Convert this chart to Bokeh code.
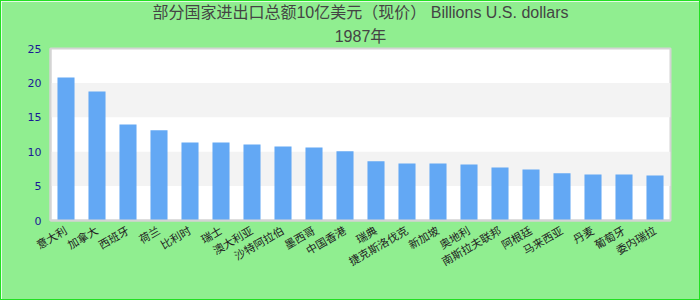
import math
from bokeh.plotting import figure
from bokeh.models import ColumnDataSource, Range1d, Title, FactorRange
from bokeh.embed import file_html
from bokeh.resources import INLINE

# ---- data ----
categories = ["意大利", "加拿大", "西班牙", "荷兰", "比利时", "瑞士", "澳大利亚", "沙特阿拉伯",
              "墨西哥", "中国香港", "瑞典", "捷克斯洛伐克", "新加坡", "奥地利", "南斯拉夫联邦",
              "阿根廷", "马来西亚", "丹麦", "葡萄牙", "委内瑞拉"]
values = [20.8, 18.75, 13.95, 13.1, 11.35, 11.35, 11.05, 10.75, 10.6, 10.05,
          8.6, 8.3, 8.3, 8.15, 7.7, 7.4, 6.85, 6.7, 6.7, 6.55]
y_ticks = [0, 5, 10, 15, 20, 25]
title_line1 = "部分国家进出口总额10亿美元（现价） Billions U.S. dollars"
title_line2 = "1987年"

FONT = "Liberation Sans, 'Noto Sans CJK SC', sans-serif"

source = ColumnDataSource(data=dict(cat=categories, val=values))

p = figure(x_range=FactorRange(*categories), y_range=Range1d(0, 25),
           frame_width=620, frame_height=172,
           min_border_left=49, min_border_right=29, min_border_top=47, min_border_bottom=79,
           output_backend="svg", toolbar_location=None)

p.add_layout(Title(text=title_line2, align="center", offset=-11, text_font_size="16px",
                   text_font=FONT, text_font_style="normal", text_color="#444444",
                   standoff=8), "above")
p.add_layout(Title(text=title_line1, align="center", offset=-11, text_font_size="16px",
                   text_font=FONT, text_font_style="normal", text_color="#444444",
                   standoff=1), "above")

p.vbar(x="cat", top="val", width=0.55, source=source, fill_color="#63a8f4", line_color=None)

p.styles = {"border": "1px solid #22e022"}
p.border_fill_color = "#90ee90"
p.background_fill_color = "#ffffff"
p.outline_line_color = "#d4d4d4"
p.outline_line_width = 2

p.xgrid.grid_line_color = None
p.ygrid.grid_line_color = None
p.ygrid.band_fill_color = "#f3f3f3"
p.ygrid.band_fill_alpha = 1.0
p.yaxis.ticker = y_ticks

for ax in (p.xaxis[0], p.yaxis[0]):
    ax.axis_line_color = "#d4d4d4"
    ax.axis_line_width = 2
    ax.major_tick_line_color = None
    ax.minor_tick_line_color = None
    ax.major_tick_out = 0
    ax.major_tick_in = 0

p.yaxis.major_label_text_color = "#1a1a96"
p.yaxis.major_label_text_font = "DejaVu Sans"
p.yaxis.major_label_text_font_size = "11px"
p.yaxis.major_label_standoff = 9

p.xaxis.major_label_orientation = math.pi / 6
p.xaxis.major_label_text_font = FONT
p.xaxis.major_label_text_font_size = "11px"
p.xaxis.major_label_text_color = "#222222"
p.xaxis.major_label_standoff = 9

open("out.html", "w").write(file_html(p, INLINE))
